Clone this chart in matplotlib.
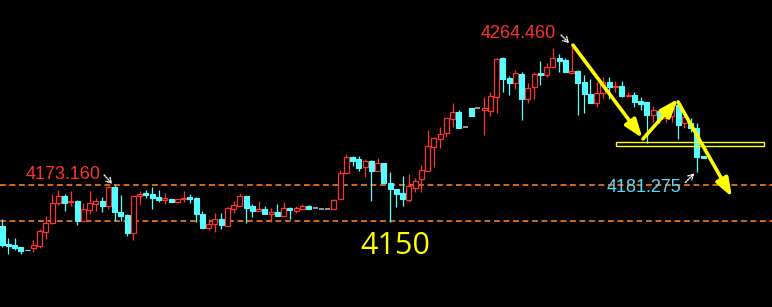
import matplotlib
matplotlib.use('Agg')
import matplotlib.pyplot as plt
from matplotlib.patches import Rectangle

# candle data (oldest first)
opens = [4146.6, 4134.9, 4134.3, 4133.0, 4131.1, 4132.3, 4133.6, 4142.7, 4148.5, 4161.5,
         4166.0, 4162.1, 4162.8, 4149.8, 4157.0, 4160.9, 4162.8, 4159.6, 4171.9, 4155.7,
         4153.7, 4142.1, 4166.0, 4168.0, 4167.3, 4165.4, 4163.4, 4164.1, 4162.1, 4164.1,
         4165.4, 4164.7, 4154.4, 4145.3, 4147.9, 4151.1, 4146.6, 4157.6, 4159.6, 4166.0,
         4159.6, 4156.3, 4157.6, 4154.4, 4155.7, 4153.1, 4158.3, 4156.3, 4157.6, 4159.6,
         4158.3, 4157.6, 4157.6, 4157.6, 4164.1, 4181.0, 4191.3, 4190.0, 4184.8, 4188.7,
         4182.2, 4187.4, 4174.5, 4170.6, 4168.0, 4163.4, 4171.2, 4177.0, 4182.2, 4197.8,
         4202.9, 4206.8, 4215.9, 4220.4, 4210.7, 4223.0, 4223.0, 4221.7, 4221.1, 4230.2,
         4255.4, 4242.5, 4239.2, 4245.1, 4228.9, 4236.6, 4245.7, 4244.4, 4249.6, 4255.4,
         4254.1, 4245.7, 4247.0, 4239.9, 4232.1, 4226.3, 4232.7, 4239.9, 4236.6, 4237.3,
         4230.8, 4231.4, 4227.6, 4226.9, 4218.5, 4221.1, 4216.6, 4217.8, 4225.0, 4213.3,
         4213.3, 4210.1, 4191.9]
closes = [4134.3, 4133.6, 4132.3, 4130.4, 4130.9, 4134.3, 4143.4, 4148.5, 4161.5, 4166.0,
          4161.5, 4162.8, 4149.8, 4157.6, 4161.5, 4162.8, 4159.6, 4171.9, 4155.7, 4153.1,
          4142.1, 4166.0, 4167.3, 4166.7, 4164.7, 4163.4, 4164.7, 4162.1, 4164.1, 4164.7,
          4164.1, 4154.4, 4145.3, 4147.9, 4151.1, 4147.3, 4158.3, 4160.2, 4166.0, 4158.3,
          4156.3, 4157.6, 4154.4, 4155.7, 4153.1, 4158.3, 4157.0, 4158.3, 4159.6, 4157.6,
          4158.3, 4157.6, 4157.6, 4163.4, 4181.0, 4191.3, 4188.7, 4184.2, 4188.7, 4182.2,
          4187.4, 4174.5, 4170.6, 4167.3, 4164.1, 4172.5, 4175.7, 4182.9, 4198.4, 4203.6,
          4206.2, 4216.6, 4220.4, 4210.1, 4210.7, 4217.8, 4223.0, 4223.0, 4230.8, 4254.8,
          4241.8, 4239.2, 4245.7, 4228.9, 4236.0, 4245.1, 4244.4, 4249.6, 4255.4, 4253.5,
          4246.3, 4247.0, 4239.2, 4232.1, 4226.3, 4232.7, 4239.9, 4236.6, 4237.3, 4230.8,
          4231.4, 4226.9, 4225.6, 4218.5, 4221.7, 4215.9, 4218.5, 4223.0, 4212.0, 4217.2,
          4210.1, 4191.3, 4190.6]
highs = [4151.1, 4138.8, 4138.8, 4133.0, 4131.1, 4137.5, 4144.7, 4153.1, 4167.3, 4169.9,
         4167.3, 4169.3, 4163.4, 4161.5, 4169.3, 4164.7, 4165.4, 4172.5, 4173.16, 4166.7,
         4154.4, 4166.0, 4169.3, 4169.9, 4171.9, 4169.9, 4168.0, 4164.1, 4164.1, 4169.3,
         4167.3, 4165.4, 4156.3, 4151.1, 4155.0, 4155.0, 4158.9, 4162.8, 4168.0, 4166.0,
         4160.9, 4162.8, 4159.6, 4158.3, 4160.9, 4162.1, 4158.9, 4159.6, 4160.9, 4160.2,
         4158.3, 4157.6, 4157.6, 4164.1, 4182.9, 4193.2, 4191.9, 4191.9, 4190.0, 4189.4,
         4190.6, 4187.4, 4181.6, 4170.6, 4179.0, 4180.3, 4177.7, 4186.1, 4208.8, 4204.3,
         4210.7, 4216.6, 4226.3, 4221.7, 4210.7, 4223.0, 4223.0, 4230.2, 4233.4, 4255.4,
         4256.1, 4243.8, 4247.6, 4246.3, 4239.2, 4246.3, 4253.5, 4252.2, 4261.9, 4258.0,
         4255.4, 4264.46, 4247.6, 4244.4, 4241.8, 4239.9, 4243.1, 4243.1, 4240.5, 4240.5,
         4233.4, 4233.4, 4230.2, 4226.9, 4224.3, 4221.1, 4221.1, 4226.9, 4228.2, 4219.8,
         4216.6, 4213.3, 4191.9]
lows = [4133.0, 4128.5, 4131.1, 4128.5, 4130.9, 4129.8, 4132.3, 4138.2, 4147.9, 4160.2,
        4156.3, 4159.6, 4147.3, 4149.8, 4154.4, 4156.3, 4155.7, 4157.6, 4149.8, 4149.8,
        4140.1, 4137.5, 4160.9, 4164.7, 4157.6, 4162.1, 4160.9, 4162.1, 4162.1, 4162.1,
        4161.5, 4149.2, 4145.3, 4144.0, 4142.7, 4144.7, 4146.6, 4155.0, 4159.6, 4148.5,
        4152.4, 4156.3, 4154.4, 4149.2, 4153.1, 4153.1, 4151.1, 4155.0, 4157.0, 4157.6,
        4158.3, 4157.6, 4157.6, 4157.6, 4164.1, 4181.0, 4185.5, 4182.2, 4178.3, 4162.8,
        4182.2, 4174.5, 4149.2, 4158.9, 4159.6, 4162.1, 4168.6, 4168.6, 4182.2, 4184.8,
        4197.1, 4204.3, 4210.7, 4210.1, 4210.7, 4217.8, 4223.0, 4205.5, 4217.8, 4219.8,
        4233.4, 4231.4, 4235.3, 4215.3, 4226.3, 4228.9, 4237.9, 4243.1, 4249.6, 4246.3,
        4246.3, 4245.7, 4218.5, 4219.8, 4226.3, 4223.7, 4229.5, 4228.9, 4233.4, 4230.2,
        4230.2, 4223.7, 4221.7, 4200.4, 4214.0, 4213.3, 4214.0, 4214.0, 4202.9, 4209.8,
        4207.5, 4181.275, 4190.6]

# marked prices: (candle index, price, label)
hi_mark = (18, 4173.16, '4173.160')
top_mark = (91, 4264.46, '4264.460')
low_mark = (111, 4181.275, '4181.275')
levels = [4173.16, 4150.0]
level_label = '4150'
# hand drawn trend arrows (candle index, price)
trend_path = [(91.2, 4263.8), (102.3, 4203.6), (102.4, 4203.0), (108.0, 4228.9),
              (108.0, 4226.9), (116.6, 4165.4)]
box = (98.1, 121.7, 4198.4, 4201.0)

RED = '#ff3232'
CYAN = '#55ffff'
YELLOW = '#ffff00'


def draw_candles(ax, w=0.8):
    for i, (o, h, l, c) in enumerate(zip(opens, highs, lows, closes)):
        if c > o:
            # hollow up candle, wick stops at the body
            ax.vlines(i, l, o, color=RED, lw=0.9)
            ax.vlines(i, c, h, color=RED, lw=0.9)
            ax.add_patch(Rectangle((i - w / 2, o), w, c - o, facecolor='black',
                                   edgecolor=RED, lw=0.9))
        elif c < o:
            ax.vlines(i, l, h, color=CYAN, lw=0.9)
            ax.add_patch(Rectangle((i - w / 2, c), w, o - c, facecolor=CYAN,
                                   edgecolor=CYAN, lw=0.8))
        else:
            ax.hlines(o, i - w / 2, i + w / 2, color='#b4b4b4', lw=1.2)


def mark(ax, m, color, dx, dy, ax_dx, ax_dy):
    i, p, txt = m
    ax.annotate(txt, xy=(i, p), xytext=(dx, dy), textcoords='offset pixels',
                ha='right', va='baseline', color=color, fontsize=13,
                family='Liberation Sans')
    ax.annotate('', xy=(i - 0.25, p), xytext=(ax_dx, ax_dy), textcoords='offset pixels',
                arrowprops=dict(arrowstyle='->,head_length=0.35,head_width=0.2',
                                color='white', lw=1.0, ls=(0, (1, 1)),
                                shrinkA=0, shrinkB=1))


def main():
    fig = plt.figure(figsize=(7.72, 3.07), dpi=100, facecolor='black')
    ax = fig.add_axes([0, 0, 1, 1])
    ax.set_facecolor('black')
    ax.axis('off')
    ax.set_xlim(-0.32, 123.0)
    ax.set_ylim(4094.1, 4293.0)

    for lv in levels:
        ax.axhline(lv, color='#f57c20', lw=1.2, ls=(0, (3.5, 2.2)), zorder=1)

    draw_candles(ax)

    mark(ax, hi_mark, RED, -14, 6, -9, 10)
    mark(ax, top_mark, RED, -16, 6, -9, 9)
    mark(ax, low_mark, '#5ad8f8', -16, -20, -10, -10)

    ax.annotate(level_label, xy=(62.8, levels[1]), xytext=(0, -33),
                textcoords='offset pixels', ha='center', va='baseline',
                color=YELLOW, fontsize=22, family='Open Sans')

    # yellow trend arrows
    for k in range(0, len(trend_path), 2):
        ax.annotate('', xy=trend_path[k + 1], xytext=trend_path[k],
                    arrowprops=dict(arrowstyle='-|>,head_length=1.1,head_width=0.4',
                                    color=YELLOW, lw=2.6, shrinkA=0, shrinkB=0),
                    zorder=5)

    x0, x1, y0, y1 = box
    ax.add_patch(Rectangle((x0, y0), x1 - x0, y1 - y0, fill=False,
                           edgecolor=YELLOW, lw=1, zorder=4))

    fig.savefig('out.png', dpi=100, facecolor='black')


if __name__ == "__main__":
    main()
